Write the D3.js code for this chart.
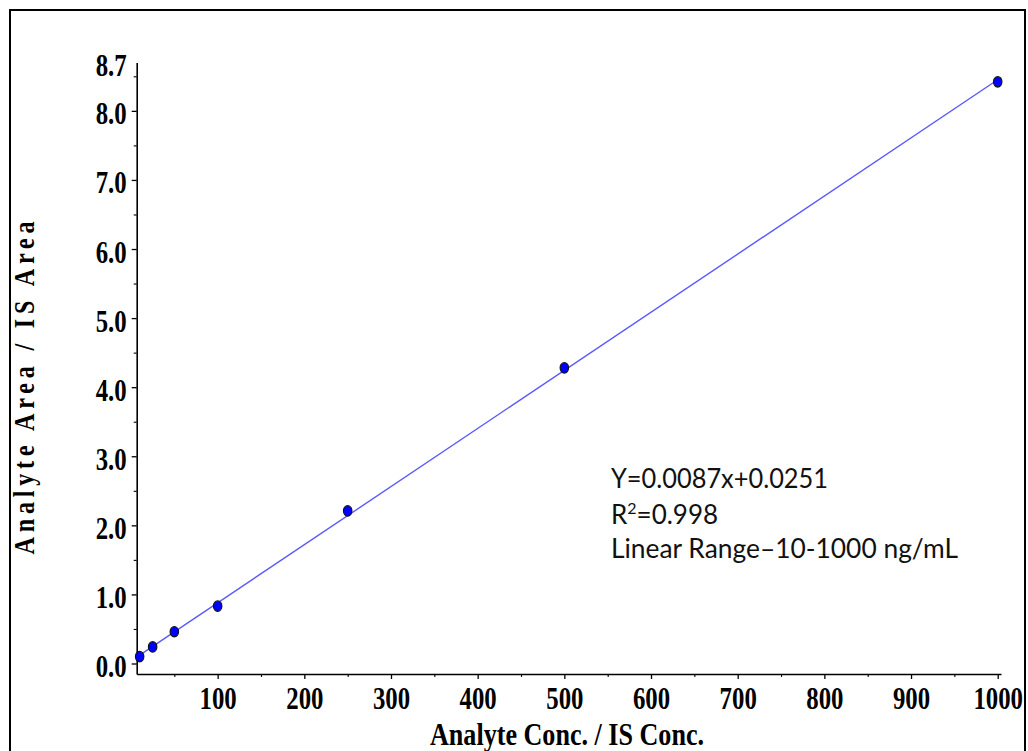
<!DOCTYPE html>
<html>
<head>
<meta charset="utf-8">
<script src="https://cdn.jsdelivr.net/npm/d3@7"></script>
<style>
  html, body { margin: 0; padding: 0; background: #fff; }
  svg { display: block; }
</style>
</head>
<body>
<svg id="chart" width="1028" height="751"></svg>
<script>
// Calibration standards: concentration ratio vs. peak-area ratio
const concentrations = [10, 25, 50, 100, 250, 500, 1000];
const areaRatios = [0.10, 0.24, 0.46, 0.83, 2.21, 4.28, 8.42];

// Axis ticks
const xMajorTicks = [100, 200, 300, 400, 500, 600, 700, 800, 900, 1000];
const xMinorTicks = [50, 150, 250, 350, 450, 550, 650, 750, 850, 950];
const yMajorTicks = [0, 1, 2, 3, 4, 5, 6, 7, 8];
const yMinorTicks = [0.5, 1.5, 2.5, 3.5, 4.5, 5.5, 6.5, 7.5, 8.5];
const yTopLabel = 8.7;

// Annotation lines
const equationText = "Y=0.0087x+0.0251";
const rSquaredText = "=0.998";
const rangeText = "Linear Range\u201310-1000 ng/mL";

const xTitle = "Analyte Conc. / IS Conc.";
const yTitle = "Analyte Area / IS Area";

const svg = d3.select("#chart");
const serif = "'Liberation Serif', 'Times New Roman', serif";

// Outer frame
svg.append("rect")
  .attr("x", 10).attr("y", 10)
  .attr("width", 1015).attr("height", 780)
  .attr("fill", "none").attr("stroke", "#000").attr("stroke-width", 2);

const x = d3.scaleLinear().domain([6.6, 1003.8]).range([136.7, 1001]);
const y = d3.scaleLinear().domain([-0.152, 8.7]).range([674, 62.5]);

// Least-squares fit through the standards
const n = concentrations.length;
const mx = d3.mean(concentrations), my = d3.mean(areaRatios);
let sxy = 0, sxx = 0;
for (let i = 0; i < n; i++) {
  sxy += (concentrations[i] - mx) * (areaRatios[i] - my);
  sxx += (concentrations[i] - mx) ** 2;
}
const slope = sxy / sxx;
const intercept = my - slope * mx;

// X axis
const xAxisG = svg.append("g").attr("transform", `translate(0,${y.range()[0]})`);
xAxisG.call(d3.axisBottom(x).tickValues(xMajorTicks).tickSize(5).tickSizeOuter(0).tickFormat(d3.format("d")));
xAxisG.select(".domain").attr("stroke", "#000").attr("stroke-width", 1.6);
xAxisG.selectAll(".tick line").attr("stroke-width", 1.3);
xAxisG.selectAll(".tick text")
  .attr("y", 35).attr("dy", 0)
  .attr("transform", "scale(0.8,1)")
  .attr("font-family", serif).attr("font-weight", "bold").attr("font-size", 31)
  .attr("fill", "#000");
svg.append("g").attr("transform", `translate(0,${y.range()[0]})`)
  .call(d3.axisBottom(x).tickValues(xMinorTicks).tickSize(3).tickFormat(""))
  .call(g => g.select(".domain").remove())
  .selectAll(".tick line").attr("stroke-width", 1.1);

// Y axis
const yAxisG = svg.append("g").attr("transform", `translate(${x.range()[0]},0)`);
yAxisG.call(d3.axisLeft(y).tickValues(yMajorTicks.concat([yTopLabel])).tickSize(5).tickSizeOuter(0)
  .tickFormat(d3.format(".1f")));
yAxisG.select(".domain").attr("stroke", "#000").attr("stroke-width", 1.6);
yAxisG.selectAll(".tick line").attr("stroke-width", 1.3)
  .filter(d => d === yTopLabel).remove();
yAxisG.selectAll(".tick text")
  .attr("x", -12.5).attr("dy", "0.42em")
  .attr("transform", "scale(0.8,1)")
  .attr("font-family", serif).attr("font-weight", "bold").attr("font-size", 31)
  .attr("fill", "#000");
svg.append("g").attr("transform", `translate(${x.range()[0]},0)`)
  .call(d3.axisLeft(y).tickValues(yMinorTicks).tickSize(3).tickFormat(""))
  .call(g => g.select(".domain").remove())
  .selectAll(".tick line").attr("stroke-width", 1.1);

// Regression line
const [x0, x1] = x.domain();
svg.append("line")
  .attr("x1", x(x0)).attr("y1", y(slope * x0 + intercept))
  .attr("x2", x(x1)).attr("y2", y(slope * x1 + intercept))
  .attr("stroke", "#5a5aff").attr("stroke-width", 1.4);

// Standards
svg.append("g").selectAll("ellipse")
  .data(concentrations.map((c, i) => ({ c, r: areaRatios[i] })))
  .join("ellipse")
  .attr("cx", d => x(d.c)).attr("cy", d => y(d.r))
  .attr("rx", 4.2).attr("ry", 5.2)
  .attr("fill", "#0000ff").attr("stroke", "#111").attr("stroke-width", 1.2);

// Axis titles
svg.append("g").attr("transform", "translate(567,745) scale(0.8,1)")
  .append("text")
  .attr("text-anchor", "middle")
  .attr("font-family", serif).attr("font-weight", "bold").attr("font-size", 32)
  .attr("textLength", 274 / 0.8).attr("lengthAdjust", "spacingAndGlyphs")
  .text(xTitle);

svg.append("g").attr("transform", "translate(34,388) rotate(-90) scale(0.8,1)")
  .append("text")
  .attr("text-anchor", "middle")
  .attr("font-family", serif).attr("font-weight", "bold").attr("font-size", 30)
  .attr("textLength", 333 / 0.8).attr("lengthAdjust", "spacing")
  .text(yTitle);

// Annotation
const note = svg.append("g")
  .attr("font-family", "Lato, 'Noto Sans', sans-serif").attr("font-size", 26).attr("fill", "#111");
note.append("text").attr("x", 611).attr("y", 488)
  .attr("textLength", 217).attr("lengthAdjust", "spacingAndGlyphs")
  .text(equationText);
const r2 = note.append("text").attr("x", 611).attr("y", 524);
r2.append("tspan").text("R");
r2.append("tspan").attr("font-size", 16).attr("dy", -10).text("2");
r2.append("tspan").attr("dy", 10).text(rSquaredText);
note.append("text").attr("x", 611).attr("y", 558)
  .attr("textLength", 347).attr("lengthAdjust", "spacingAndGlyphs")
  .text(rangeText);
</script>
</body>
</html>
